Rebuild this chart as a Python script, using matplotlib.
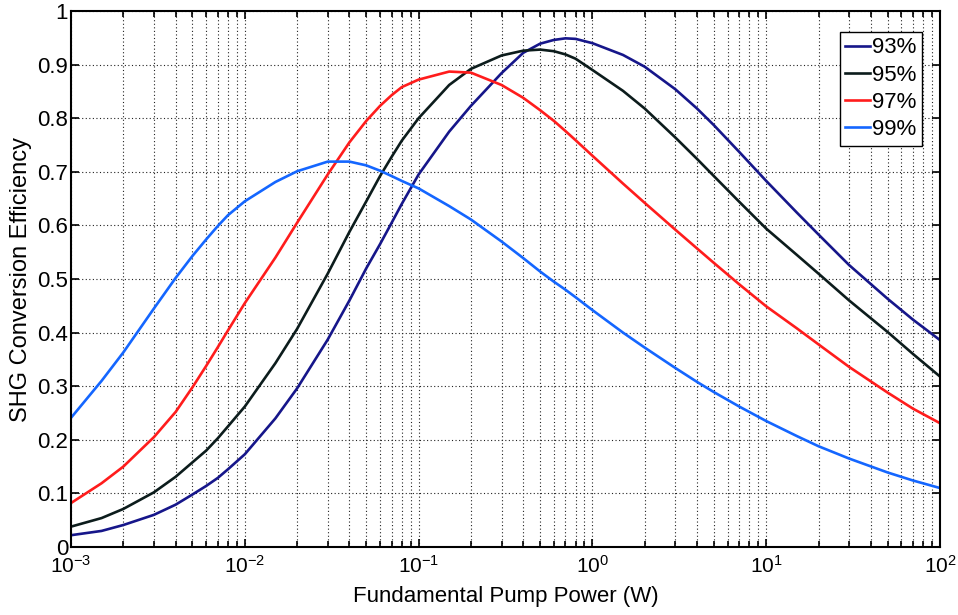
import numpy as np
import matplotlib
matplotlib.use("Agg")
import matplotlib.pyplot as plt
from matplotlib.ticker import FixedLocator, FuncFormatter, LogLocator, NullFormatter

plt.rcParams['font.family'] = ['Liberation Sans', 'DejaVu Sans']
plt.rcParams['mathtext.default'] = 'regular'

# Fundamental pump power (W)
power = [1e-3, 1.5e-3, 2e-3, 3e-3, 4e-3, 5e-3, 6e-3, 7e-3, 8e-3, 1e-2, 1.5e-2, 2e-2,
         3e-2, 4e-2, 5e-2, 6e-2, 7e-2, 8e-2, 0.1, 0.15, 0.2, 0.3, 0.4, 0.5, 0.6, 0.7,
         0.8, 1, 1.5, 2, 3, 4, 5, 7, 10, 15, 20, 30, 50, 70, 100]

eff_93 = [0.022, 0.030, 0.041, 0.060, 0.079, 0.098, 0.114, 0.129, 0.145, 0.173, 0.240, 0.296,
          0.387, 0.460, 0.520, 0.565, 0.605, 0.640, 0.695, 0.775, 0.823, 0.884, 0.922, 0.939,
          0.946, 0.949, 0.948, 0.940, 0.918, 0.896, 0.854, 0.818, 0.787, 0.737, 0.683, 0.624,
          0.583, 0.526, 0.463, 0.424, 0.386]
eff_95 = [0.038, 0.054, 0.071, 0.102, 0.131, 0.158, 0.180, 0.203, 0.225, 0.262, 0.343, 0.407,
          0.510, 0.588, 0.645, 0.692, 0.728, 0.758, 0.800, 0.862, 0.892, 0.917, 0.926, 0.928,
          0.925, 0.919, 0.911, 0.890, 0.851, 0.818, 0.764, 0.724, 0.692, 0.644, 0.594, 0.545,
          0.510, 0.460, 0.401, 0.360, 0.318]
eff_97 = [0.082, 0.119, 0.150, 0.205, 0.252, 0.298, 0.338, 0.373, 0.404, 0.455, 0.540, 0.605,
          0.695, 0.755, 0.795, 0.823, 0.843, 0.858, 0.872, 0.887, 0.885, 0.862, 0.838, 0.815,
          0.795, 0.776, 0.759, 0.730, 0.678, 0.642, 0.592, 0.557, 0.530, 0.490, 0.449, 0.408,
          0.378, 0.336, 0.288, 0.258, 0.231]
eff_99 = [0.241, 0.310, 0.363, 0.445, 0.502, 0.543, 0.574, 0.599, 0.619, 0.645, 0.681, 0.701,
          0.719, 0.719, 0.712, 0.702, 0.692, 0.683, 0.669, 0.636, 0.611, 0.570, 0.539, 0.514,
          0.495, 0.480, 0.466, 0.442, 0.400, 0.372, 0.334, 0.308, 0.289, 0.262, 0.235, 0.207,
          0.188, 0.165, 0.139, 0.124, 0.110]

labels = ['93%', '95%', '97%', '99%']
colors = ['#16168a', '#0c1c1c', '#ff1c1c', '#1466ff']
series = [eff_93, eff_95, eff_97, eff_99]

yticks = [0, 0.1, 0.2, 0.3, 0.4, 0.5, 0.6, 0.7, 0.8, 0.9, 1]

fig = plt.figure(figsize=(9.58, 6.15), dpi=100)
ax = fig.add_axes([71/958, 68/615, 869/958, 536/615])

for y, c, lab in zip(series, colors, labels):
    ax.plot(power, y, color=c, lw=1.9, label=lab, solid_joinstyle='round')

ax.set_xscale('log')
ax.set_xlim(1e-3, 1e2)
ax.set_ylim(0, 1)
ax.yaxis.set_major_locator(FixedLocator(yticks))
ax.yaxis.set_major_formatter(FuncFormatter(lambda v, p: '%g' % v))
ax.xaxis.set_major_locator(LogLocator(base=10, numticks=10))
ax.xaxis.set_minor_locator(LogLocator(base=10, subs=np.arange(2, 10), numticks=20))
ax.xaxis.set_minor_formatter(NullFormatter())

grid_style = dict(color='#222222', linestyle=(0, (1, 2.2)), linewidth=0.8)
ax.grid(True, which='major', axis='both', **grid_style)
ax.grid(True, which='minor', axis='x', **grid_style)
ax.set_axisbelow(True)

ax.tick_params(which='both', direction='in', top=True, right=True, width=1.2)
ax.tick_params(which='major', length=6)
ax.tick_params(which='minor', length=4)
ax.tick_params(axis='y', labelsize=16, pad=2)
ax.tick_params(axis='x', labelsize=15, pad=6)
for s in ax.spines.values():
    s.set_linewidth(1.5)

ax.set_xlabel('Fundamental Pump Power (W)', fontsize=16, labelpad=6)
ax.set_ylabel('SHG Conversion Efficiency', fontsize=17, labelpad=4)

leg = ax.legend(loc='upper right', bbox_to_anchor=(0.979, 0.961), fontsize=16,
                frameon=True, fancybox=False, handlelength=1.1, handletextpad=0.1,
                borderpad=0.25, labelspacing=0.28, borderaxespad=0)
leg.get_frame().set_edgecolor('black')
leg.get_frame().set_linewidth(1.0)
leg.get_frame().set_alpha(1)

fig.savefig('out.png', dpi=100)
